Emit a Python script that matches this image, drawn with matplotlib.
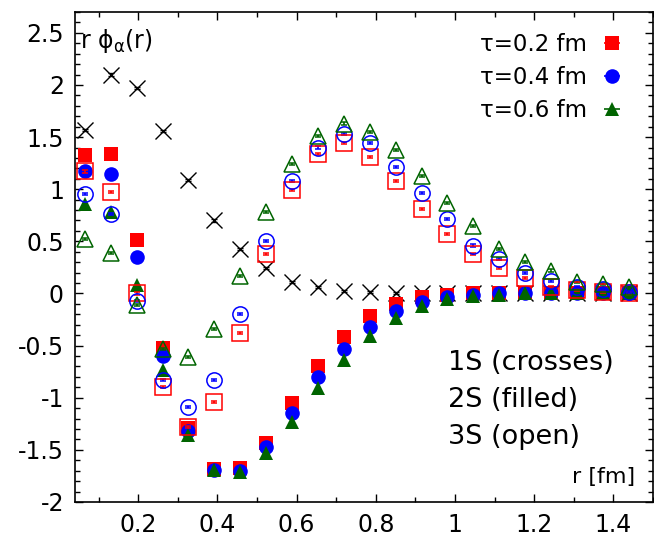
import numpy as np
import matplotlib
matplotlib.use("Agg")
import matplotlib.pyplot as plt
from matplotlib.container import ErrorbarContainer
from matplotlib.legend_handler import HandlerErrorbar
from matplotlib.ticker import MultipleLocator

plt.rcParams['font.family'] = ['DejaVu Sans']
plt.rcParams['mathtext.fontset'] = 'dejavusans'
plt.rcParams['mathtext.default'] = 'regular'

# radial distance r [fm] (lattice points)
r = [0.065, 0.131, 0.196, 0.262, 0.327, 0.392, 0.458, 0.523, 0.589, 0.654, 0.719,
     0.785, 0.850, 0.916, 0.981, 1.046, 1.112, 1.177, 1.243, 1.308, 1.373, 1.439]

# 1S wave function
phi_1s = [1.57, 2.10, 1.97, 1.56, 1.09, 0.70, 0.43, 0.24, 0.11, 0.06, 0.02,
          0.01, 0.005, 0.003, 0.0, 0.0, 0.0, 0.0, 0.0, 0.0, 0.0, 0.0]

# 2S wave function, tau = 0.2, 0.4, 0.6 fm
phi_2s_t02 = [1.33, 1.34, 0.51, -0.52, -1.29, -1.68, -1.67, -1.43, -1.05, -0.70, -0.42,
              -0.22, -0.105, -0.03, -0.01, 0.0, 0.0, 0.0, 0.0, 0.0, 0.0, 0.0]
phi_2s_t04 = [1.17, 1.15, 0.35, -0.60, -1.32, -1.69, -1.70, -1.47, -1.15, -0.80, -0.53,
              -0.32, -0.17, -0.08, -0.03, -0.01, 0.0, 0.0, 0.0, 0.0, 0.0, 0.0]
phi_2s_t06 = [0.86, 0.78, 0.08, -0.73, -1.36, -1.69, -1.71, -1.53, -1.23, -0.91, -0.64,
              -0.41, -0.24, -0.12, -0.05, -0.02, -0.01, 0.0, 0.0, 0.0, 0.0, 0.0]

# 3S wave function, tau = 0.2, 0.4, 0.6 fm
phi_3s_t02 = [1.17, 0.97, 0.0, -0.90, -1.28, -1.04, -0.38, 0.38, 0.99, 1.34, 1.44,
              1.31, 1.08, 0.81, 0.57, 0.38, 0.24, 0.15, 0.06, 0.03, 0.01, 0.0]
phi_3s_t04 = [0.95, 0.76, -0.07, -0.83, -1.09, -0.83, -0.20, 0.50, 1.08, 1.40, 1.53,
              1.44, 1.21, 0.96, 0.71, 0.46, 0.33, 0.20, 0.12, 0.06, 0.04, 0.01]
phi_3s_t06 = [0.52, 0.39, -0.11, -0.53, -0.61, -0.34, 0.17, 0.78, 1.24, 1.51, 1.63,
              1.55, 1.38, 1.13, 0.87, 0.65, 0.43, 0.30, 0.22, 0.11, 0.09, 0.06]

err = 0.01
tau_labels = ['τ=0.2 fm', 'τ=0.4 fm', 'τ=0.6 fm']
colors = ['#ff0000', '#0000ff', '#006400']
markers = ['s', 'o', '^']

fig = plt.figure(figsize=(6.54, 5.4), dpi=100)
ax = fig.add_axes([0.1147, 0.0704, 0.8838, 0.9074])

# 1S underneath everything else
ax.errorbar(r, phi_1s, yerr=err, fmt='x', color='black', ms=11, mew=1.0,
            elinewidth=1.2, capsize=2.5, zorder=2)

handles = []
for y, c, m, lab in zip([phi_2s_t02, phi_2s_t04, phi_2s_t06], colors, markers, tau_labels):
    h = ax.errorbar(r, y, yerr=err, xerr=1e-4, fmt=m, color=c, ms=10.5,
                    mec=c, mew=0, elinewidth=1.2, capsize=2.5, label=lab, zorder=3)
    handles.append(h)

for y, c, m in zip([phi_3s_t02, phi_3s_t04, phi_3s_t06], colors, markers):
    ax.errorbar(r, y, yerr=err, fmt=m, color=c, ms=11, mfc='none', mec=c,
                mew=1.1, elinewidth=1.2, capsize=2.5, zorder=4)

ax.set_xlim(0.0407, 1.5)
ax.set_ylim(-2, 2.7)
ax.xaxis.set_minor_locator(MultipleLocator(0.1))
ax.yaxis.set_minor_locator(MultipleLocator(0.1))
ax.set_xticks([0.2, 0.4, 0.6, 0.8, 1.0, 1.2, 1.4])
ax.set_xticklabels(['0.2', '0.4', '0.6', '0.8', '1', '1.2', '1.4'])
ax.set_yticks([-2, -1.5, -1, -0.5, 0, 0.5, 1, 1.5, 2, 2.5])
ax.set_yticklabels(['-2', '-1.5', '-1', '-0.5', '0', '0.5', '1', '1.5', '2', '2.5'])
ax.tick_params(which='both', direction='in', top=True, right=True, labelsize=17)
ax.tick_params(which='major', length=6, width=1, pad=8)
ax.tick_params(which='minor', length=3.5, width=1)
for s in ax.spines.values():
    s.set_linewidth(1.2)

ax.text(0.009, 0.927, r'r $\phi_{\alpha}$(r)', transform=ax.transAxes,
        fontsize=17, va='baseline', ha='left')
ax.text(0.969, 0.039, 'r [fm]', transform=ax.transAxes,
        fontsize=16, va='baseline', ha='right')
for i, t in enumerate(['1S (crosses)', '2S (filled)', '3S (open)']):
    ax.text(0.645, 0.269 - i * 0.0755, t, transform=ax.transAxes,
            fontsize=19.5, va='baseline', ha='left')

ax.legend(handles=handles, loc='upper right', bbox_to_anchor=(0.985, 1.0),
          frameon=False, markerfirst=False, fontsize=16.5, handlelength=1.0,
          handletextpad=0.6, labelspacing=0.45,
          handler_map={ErrorbarContainer: HandlerErrorbar(xerr_size=0.35, yerr_size=0.12)})

fig.savefig('out.png', dpi=100)
